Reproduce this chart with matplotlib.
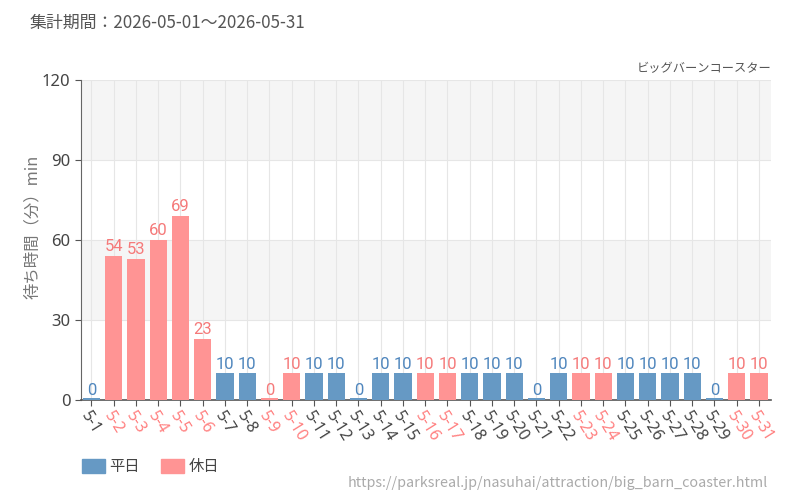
import matplotlib
matplotlib.use('Agg')
import matplotlib.pyplot as plt
from matplotlib.patches import Patch

plt.rcParams['font.family'] = ['Noto Sans CJK JP', 'DejaVu Sans']

# データ
days = ['5-%d' % d for d in range(1, 32)]
waits = [0, 54, 53, 60, 69, 23, 10, 10, 0, 10,
         10, 10, 0, 10, 10, 10, 10, 10, 10, 10,
         0, 10, 10, 10, 10, 10, 10, 10, 0, 10, 10]
holidays = ['5-2', '5-3', '5-4', '5-5', '5-6', '5-9', '5-10', '5-16', '5-17',
            '5-23', '5-24', '5-30', '5-31']
yticks = [0, 30, 60, 90, 120]

c_week = '#6699c4'
c_hol = '#ff9494'
lab_week = '#4f86bd'
lab_hol = '#f57a7a'

fig = plt.figure(figsize=(8, 5), dpi=100)
ax = fig.add_axes([0.101, 0.2, 0.863, 0.64])

# 背景の縞
for lo, hi in [(30, 60), (90, 120)]:
    ax.axhspan(lo, hi, color='#f5f5f5', zorder=0, lw=0)
for y in yticks[1:]:
    ax.axhline(y, color='#e6e6e6', lw=0.8, zorder=0.5)
for i in range(len(days)):
    ax.axvline(i, color='#e6e6e6', lw=0.8, zorder=0.5)

x = list(range(len(days)))
cols = [c_hol if d in holidays else c_week for d in days]
# 0分の日も細い線で見えるように最小の高さを付ける
shown = [max(v, 0.7) for v in waits]
ax.bar(x, shown, width=0.78, color=cols, linewidth=0, zorder=3)

for i, (d, v) in enumerate(zip(days, waits)):
    ax.text(i, v + 0.6, str(v), ha='center', va='bottom', fontsize=12,
            color=lab_hol if d in holidays else lab_week,
            family=['Liberation Sans Narrow', 'Roboto', 'DejaVu Sans'], zorder=4)

ax.set_xlim(-0.48, 30.55)
ax.set_ylim(0, 120)
ax.set_yticks(yticks)
ax.set_yticklabels([str(t) for t in yticks], fontsize=12, color='#444444',
                   fontweight='bold', family=['Noto Sans', 'DejaVu Sans'])
ax.set_xticks(x)
ax.set_xticklabels(days, rotation=-58, ha='left', va='top', rotation_mode='anchor',
                   fontsize=11.5, family=['Noto Sans', 'DejaVu Sans'])
for lbl, d in zip(ax.get_xticklabels(), days):
    lbl.set_color('#ff8080' if d in holidays else '#444444')
ax.tick_params(axis='both', length=4, color='#555555')
ax.tick_params(axis='x', pad=2)

for s in ['top', 'right']:
    ax.spines[s].set_visible(False)
ax.spines['left'].set_color('#666666')
ax.spines['bottom'].set_color('#555555')
ax.spines['bottom'].set_linewidth(1.2)

ax.set_ylabel('待ち時間（分）min', fontsize=11.8, color='#777777')
ax.yaxis.set_label_coords(-0.058, 0.54)

fig.text(0.0375, 0.955, '集計期間：2026-05-01～2026-05-31', fontsize=12.2, color='#555555',
         ha='left', va='center')
fig.text(0.964, 0.862, 'ビッグバーンコースター', fontsize=8.8, color='#555555',
         ha='right', va='center')
fig.text(0.96, 0.034, 'https://parksreal.jp/nasuhai/attraction/big_barn_coaster.html',
         fontsize=10.3, color='#aaaaaa', ha='right', va='center')

handles = [Patch(color=c_week, label='平日'), Patch(color=c_hol, label='休日')]
fig.legend(handles=handles, loc='center left', bbox_to_anchor=(0.085, 0.067), ncol=2,
           frameon=False, fontsize=11, handlelength=1.5, handleheight=1.0,
           handletextpad=0.3, columnspacing=1.4, labelcolor='#444444')

fig.savefig('out.png', dpi=100)
